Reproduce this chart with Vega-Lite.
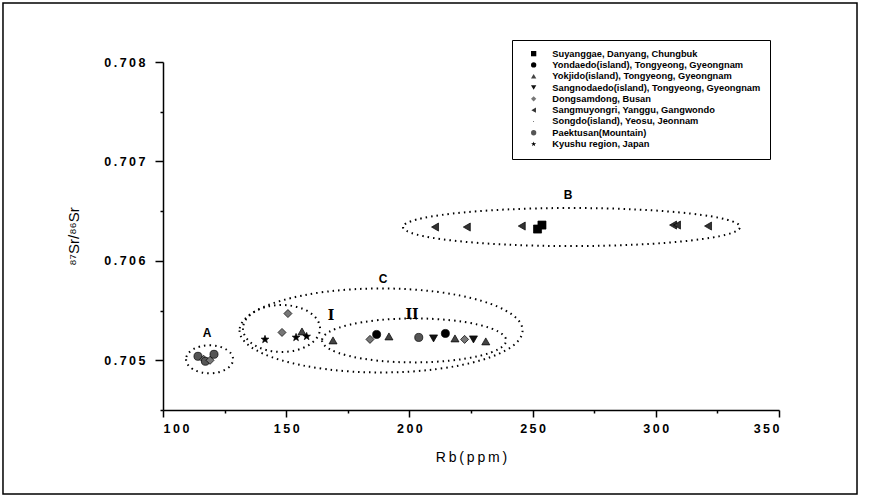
{
  "$schema": "https://vega.github.io/schema/vega-lite/v6.json",
  "autosize": "none",
  "width": 616,
  "height": 348,
  "padding": {"left": 163, "top": 62, "right": 91, "bottom": 90},
  "background": "white",
  "config": {
    "view": {"stroke": null},
    "axis": {
      "grid": false,
      "domainColor": "black",
      "domainWidth": 1.5,
      "tickColor": "black",
      "tickWidth": 1.5,
      "labelFont": "Liberation Sans",
      "labelFontWeight": "bold",
      "labelFontSize": 12.5,
      "labelColor": "black",
      "titleFont": "Liberation Sans",
      "titleColor": "black"
    }
  },
  "datasets": {
    "points": [
      {"loc": "Paektusan(Mountain)", "Rb": 114.2, "Sr": 0.70504},
      {"loc": "Dongsamdong, Busan", "Rb": 116.5, "Sr": 0.70501},
      {"loc": "Paektusan(Mountain)", "Rb": 117.2, "Sr": 0.70499},
      {"loc": "Dongsamdong, Busan", "Rb": 119.1, "Sr": 0.70500},
      {"loc": "Paektusan(Mountain)", "Rb": 120.7, "Sr": 0.70506},
      {"loc": "Kyushu region, Japan", "Rb": 141.4, "Sr": 0.70521},
      {"loc": "Dongsamdong, Busan", "Rb": 150.7, "Sr": 0.70547},
      {"loc": "Dongsamdong, Busan", "Rb": 148.3, "Sr": 0.70528},
      {"loc": "Kyushu region, Japan", "Rb": 154.0, "Sr": 0.70523},
      {"loc": "Yokjido(island), Tongyeong, Gyeongnam", "Rb": 156.4, "Sr": 0.70529},
      {"loc": "Kyushu region, Japan", "Rb": 158.3, "Sr": 0.70524},
      {"loc": "Yokjido(island), Tongyeong, Gyeongnam", "Rb": 169.0, "Sr": 0.70520},
      {"loc": "Dongsamdong, Busan", "Rb": 184.0, "Sr": 0.70521},
      {"loc": "Yondaedo(island), Tongyeong, Gyeongnam", "Rb": 186.7, "Sr": 0.70526},
      {"loc": "Yokjido(island), Tongyeong, Gyeongnam", "Rb": 191.7, "Sr": 0.70524},
      {"loc": "Paektusan(Mountain)", "Rb": 203.8, "Sr": 0.70523},
      {"loc": "Sangnodaedo(island), Tongyeong, Gyeongnam", "Rb": 209.8, "Sr": 0.70522},
      {"loc": "Yondaedo(island), Tongyeong, Gyeongnam", "Rb": 214.6, "Sr": 0.70527},
      {"loc": "Yokjido(island), Tongyeong, Gyeongnam", "Rb": 218.5, "Sr": 0.70522},
      {"loc": "Dongsamdong, Busan", "Rb": 222.4, "Sr": 0.70521},
      {"loc": "Sangnodaedo(island), Tongyeong, Gyeongnam", "Rb": 226.0, "Sr": 0.70521},
      {"loc": "Yokjido(island), Tongyeong, Gyeongnam", "Rb": 231.0, "Sr": 0.70519},
      {"loc": "Sangmuyongri, Yanggu, Gangwondo", "Rb": 210.4, "Sr": 0.70634},
      {"loc": "Sangmuyongri, Yanggu, Gangwondo", "Rb": 223.3, "Sr": 0.70634},
      {"loc": "Sangmuyongri, Yanggu, Gangwondo", "Rb": 245.6, "Sr": 0.70635},
      {"loc": "Suyanggae, Danyang, Chungbuk", "Rb": 252.0, "Sr": 0.70632},
      {"loc": "Suyanggae, Danyang, Chungbuk", "Rb": 253.8, "Sr": 0.70636},
      {"loc": "Sangmuyongri, Yanggu, Gangwondo", "Rb": 307.0, "Sr": 0.70636},
      {"loc": "Sangmuyongri, Yanggu, Gangwondo", "Rb": 308.6, "Sr": 0.70636},
      {"loc": "Sangmuyongri, Yanggu, Gangwondo", "Rb": 321.2, "Sr": 0.70635}
    ],
    "ellipses": [
      {"name": "A", "Rb": 118.9, "Sr": 0.70501},
      {"name": "I", "Rb": 148.1, "Sr": 0.70532},
      {"name": "C", "Rb": 188.5, "Sr": 0.70530},
      {"name": "II", "Rb": 201.9, "Sr": 0.70520},
      {"name": "B", "Rb": 265.8, "Sr": 0.70634}
    ],
    "labels": [
      {"label": "A", "Rb": 117.9, "Sr": 0.70527, "kind": "letter"},
      {"label": "B", "Rb": 264.4, "Sr": 0.70666, "kind": "letter"},
      {"label": "C", "Rb": 189.3, "Sr": 0.70582, "kind": "letter"},
      {"label": "I", "Rb": 168.2, "Sr": 0.70545, "kind": "roman"},
      {"label": "II", "Rb": 201.1, "Sr": 0.70546, "kind": "roman"}
    ],
    "frame": [
      {"Rb": 35.06, "Rb2": 381.66, "Sr": 0.708594, "Sr2": 0.703655}
    ]
  },
  "encoding": {
    "x": {
      "field": "Rb", "type": "quantitative",
      "scale": {"domain": [100, 350], "nice": false, "zero": false},
      "axis": {
        "title": "R\u2009b\u2009(\u2009p\u2009p\u2009m\u2009)",
        "titleFontSize": 14,
        "titleFontWeight": "normal",
        "titlePadding": 16,
        "values": [100, 125, 150, 175, 200, 225, 250, 275, 300, 325, 350],
        "labelExpr": "datum.value % 50 === 0 ? join(split(datum.label, ''), '\u2009') : ''",
        "labelPadding": 5,
        "tickSize": {"condition": {"test": "datum.value % 50 !== 0", "value": 3}, "value": 7}
      }
    },
    "y": {
      "field": "Sr", "type": "quantitative",
      "scale": {"domain": [0.7045, 0.708], "nice": false, "zero": false},
      "axis": {
        "title": "⁸⁷Sr/⁸⁶Sr",
        "titleFontSize": 15,
        "titleFontWeight": "normal",
        "titlePadding": 22,
        "values": [0.7045, 0.705, 0.7055, 0.706, 0.7065, 0.707, 0.7075, 0.708],
        "format": ".3f",
        "labelExpr": "abs(datum.value * 1000 - round(datum.value * 1000)) < 0.01 ? join(split(datum.label, ''), '\u2009') : ''",
        "labelPadding": 10,
        "tickSize": {"condition": {"test": "abs(datum.value * 1000 - round(datum.value * 1000)) > 0.01", "value": 3}, "value": 8}
      }
    }
  },
  "layer": [
    {
      "data": {"name": "ellipses"},
      "transform": [{"filter": "datum.name === 'A'"}],
      "mark": {"type": "point", "shape": "M -1 0 A 1 0.596 0 1 0 1 0 A 1 0.596 0 1 0 -1 0 Z", "size": 2209, "filled": false, "stroke": "black", "strokeWidth": 2, "strokeDash": [1.5, 4], "opacity": 1}
    },
    {
      "data": {"name": "ellipses"},
      "transform": [{"filter": "datum.name === 'I'"}],
      "mark": {"type": "point", "shape": "M -1 0 A 1 0.61 0 1 0 1 0 A 1 0.61 0 1 0 -1 0 Z", "size": 5929, "filled": false, "stroke": "black", "strokeWidth": 2, "strokeDash": [1.5, 4], "opacity": 1}
    },
    {
      "data": {"name": "ellipses"},
      "transform": [{"filter": "datum.name === 'C'"}],
      "mark": {"type": "point", "shape": "M -1 0 A 1 0.297 0 1 0 1 0 A 1 0.297 0 1 0 -1 0 Z", "size": 80089, "filled": false, "stroke": "black", "strokeWidth": 2, "strokeDash": [1.5, 4], "opacity": 1}
    },
    {
      "data": {"name": "ellipses"},
      "transform": [{"filter": "datum.name === 'II'"}],
      "mark": {"type": "point", "shape": "M -1 0 A 1 0.239 0 1 0 1 0 A 1 0.239 0 1 0 -1 0 Z", "size": 33856, "filled": false, "stroke": "black", "strokeWidth": 2, "strokeDash": [1.5, 4], "opacity": 1}
    },
    {
      "data": {"name": "ellipses"},
      "transform": [{"filter": "datum.name === 'B'"}],
      "mark": {"type": "point", "shape": "M -1 0 A 1 0.113 0 1 0 1 0 A 1 0.113 0 1 0 -1 0 Z", "size": 113569, "filled": false, "stroke": "black", "strokeWidth": 2, "strokeDash": [1.5, 4], "opacity": 1}
    },
    {
      "data": {"name": "points"},
      "mark": {"type": "point", "filled": true, "size": 65, "opacity": 1, "stroke": "black", "strokeWidth": 0.7},
      "encoding": {
        "shape": {
          "field": "loc", "type": "nominal",
          "scale": {
            "domain": ["Suyanggae, Danyang, Chungbuk", "Yondaedo(island), Tongyeong, Gyeongnam", "Yokjido(island), Tongyeong, Gyeongnam", "Sangnodaedo(island), Tongyeong, Gyeongnam", "Dongsamdong, Busan", "Sangmuyongri, Yanggu, Gangwondo", "Songdo(island), Yeosu, Jeonnam", "Paektusan(Mountain)", "Kyushu region, Japan"],
            "range": ["square", "circle", "triangle-up", "triangle-down", "diamond", "triangle-left", "M -0.15 0 A 0.15 0.15 0 1 0 0.15 0 A 0.15 0.15 0 1 0 -0.15 0 Z", "circle", "M 0 -1 L 0.235 -0.324 L 0.951 -0.309 L 0.38 0.124 L 0.588 0.809 L 0 0.4 L -0.588 0.809 L -0.38 0.124 L -0.951 -0.309 L -0.235 -0.324 Z"]
          },
          "legend": {
            "title": null,
            "orient": "none",
            "legendX": 349,
            "legendY": -22,
            "strokeColor": "black",
            "padding": 9,
            "labelFont": "Liberation Sans",
            "labelFontWeight": "bold",
            "labelFontSize": 9.3,
            "labelColor": "black",
            "labelLimit": 400,
            "labelOffset": 14,
            "symbolSize": 28,
            "symbolOffset": 8,
            "rowPadding": 1.3,
            "symbolStrokeWidth": 0
          }
        },
        "color": {
          "field": "loc", "type": "nominal",
          "scale": {
            "domain": ["Suyanggae, Danyang, Chungbuk", "Yondaedo(island), Tongyeong, Gyeongnam", "Yokjido(island), Tongyeong, Gyeongnam", "Sangnodaedo(island), Tongyeong, Gyeongnam", "Dongsamdong, Busan", "Sangmuyongri, Yanggu, Gangwondo", "Songdo(island), Yeosu, Jeonnam", "Paektusan(Mountain)", "Kyushu region, Japan"],
            "range": ["#000000", "#000000", "#444444", "#111111", "#777777", "#333333", "#000000", "#555555", "#000000"]
          },
          "legend": {
            "title": null,
            "orient": "none",
            "legendX": 349,
            "legendY": -22,
            "strokeColor": "black",
            "padding": 9,
            "labelFont": "Liberation Sans",
            "labelFontWeight": "bold",
            "labelFontSize": 9.3,
            "labelColor": "black",
            "labelLimit": 400,
            "labelOffset": 14,
            "symbolSize": 28,
            "symbolOffset": 8,
            "rowPadding": 1.3,
            "symbolStrokeWidth": 0
          }
        }
      }
    },
    {
      "data": {"name": "labels"},
      "transform": [{"filter": "datum.kind === 'letter'"}],
      "mark": {"type": "text", "font": "Liberation Sans", "fontWeight": "bold", "fontSize": 12, "color": "black"},
      "encoding": {"text": {"field": "label"}}
    },
    {
      "data": {"name": "labels"},
      "transform": [{"filter": "datum.kind === 'roman'"}],
      "mark": {"type": "text", "font": "DejaVu Serif", "fontWeight": "bold", "fontSize": 14, "color": "black"},
      "encoding": {"text": {"field": "label"}}
    },
    {
      "data": {"name": "frame"},
      "mark": {"type": "rect", "filled": false, "stroke": "black", "strokeWidth": 1.5, "clip": false},
      "encoding": {
        "x": {"field": "Rb", "type": "quantitative"},
        "x2": {"field": "Rb2"},
        "y": {"field": "Sr", "type": "quantitative"},
        "y2": {"field": "Sr2"}
      }
    }
  ]
}
